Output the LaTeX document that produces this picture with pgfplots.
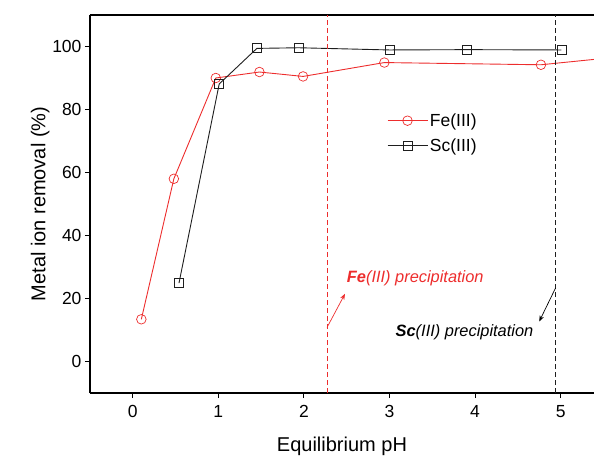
\documentclass[border=0pt]{standalone}
\usepackage{fontspec}
\setmainfont{Liberation Sans}
\usepackage{pgfplots}
\pgfplotsset{compat=1.18}
\usetikzlibrary{calc, arrows.meta}
\definecolor{fered}{RGB}{237,45,45}
\definecolor{scgray}{RGB}{30,30,30}

\begin{document}
\begin{tikzpicture}
\begin{axis}[
    scale only axis,
    width=504pt, height=378pt,
    xmin=-0.5, xmax=5.39, ymin=-10, ymax=110,
    xtick={0,1,2,3,4,5}, ytick={0,20,40,60,80,100},
    xtick pos=bottom, ytick pos=left,
    axis y line*=left,
    tick align=outside, major tick length=5pt,
    tick style={black, line width=1.1pt},
    axis line style={line width=1.1pt},
    /pgf/number format/assume math mode=true,
    ticklabel style={font=\fontsize{17.5}{20}\selectfont},
    xticklabel style={yshift=-4pt},
    xlabel={Equilibrium pH}, ylabel={Metal ion removal (\%)},
    label style={font=\fontsize{20}{24}\selectfont},
    xlabel style={yshift=-12pt},
    ylabel style={yshift=-4pt},
    legend style={draw=none, fill=none, at={(0.589,0.745)}, anchor=north west,
        font=\fontsize{17.5}{20}\selectfont, row sep=7pt, inner sep=0pt},
    legend cell align=left,
    legend image code/.code={\draw[mark repeat=2, mark phase=2] plot coordinates {(0pt,0pt)(20pt,0pt)(40pt,0pt)};},
]
\addplot[fered, line width=0.9pt, mark=o, mark size=4.8pt, mark options={fill=white, line width=0.7pt}]
    coordinates {(0.10,13.4)(0.48,58.0)(0.97,90.0)(1.48,91.9)(1.99,90.5)(2.94,94.9)(4.77,94.2)(5.90,97.3)};
\addplot[scgray, line width=0.9pt, mark=square, mark size=4.5pt, mark options={fill=white, line width=0.8pt}]
    coordinates {(0.54,24.9)(1.01,88.1)(1.45,99.4)(1.94,99.6)(3.00,98.9)(3.91,99.0)(5.01,98.9)};
\legend{Fe(III), Sc(III)}
\draw[fered, dash pattern=on 5pt off 3pt, line width=1pt] (axis cs:2.27,-10) -- (axis cs:2.27,110);
\draw[scgray, dash pattern=on 5pt off 3pt, line width=1pt] (axis cs:4.94,-10) -- (axis cs:4.94,110);
\draw[fered, line width=0.7pt, -{Stealth[length=6pt]}] (axis cs:2.27,10.8) -- (axis cs:2.48,21.5);
\draw[black, line width=0.7pt, -{Stealth[length=6pt]}] (axis cs:4.94,23.3) -- (axis cs:4.75,12.7);
\node[fered, anchor=west, font=\fontsize{16.4}{19}\selectfont\itshape, inner sep=0pt]
    at (axis cs:2.50,26.5) {\textbf{Fe}(III) precipitation};
\node[black, anchor=west, font=\fontsize{16.4}{19}\selectfont\itshape, inner sep=0pt]
    at (axis cs:3.07,9.2) {\textbf{Sc}(III) precipitation};
\end{axis}
\pgfresetboundingbox
\path[use as bounding box] ($(current axis.south west)+(-90pt,-65pt)$) rectangle ($(current axis.north east)+(0pt,15pt)$);
\end{tikzpicture}
\end{document}
